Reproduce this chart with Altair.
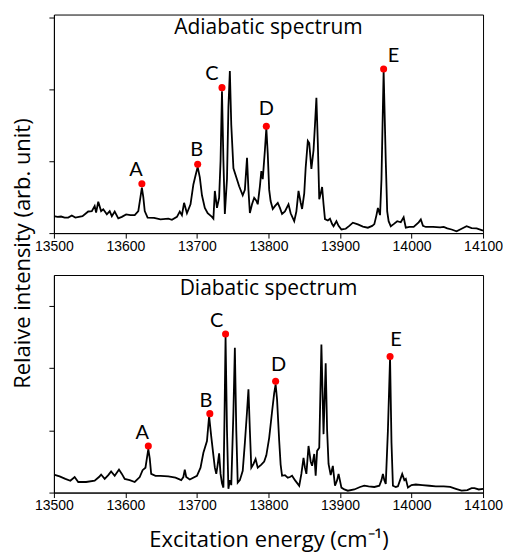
import altair as alt
import pandas as pd

# ---------------- data ----------------
adia_energy = [13500, 13505, 13510, 13515, 13520, 13525, 13530, 13540, 13548, 13553, 13557, 13559,
               13562, 13566, 13569, 13574, 13578, 13581, 13585, 13590, 13595, 13601, 13607, 13613,
               13618, 13621, 13623, 13625, 13627, 13631, 13640, 13649, 13660, 13665, 13672, 13676,
               13679, 13682, 13686, 13691, 13695, 13698, 13701, 13704, 13707, 13711, 13715, 13721,
               13723, 13725, 13728, 13731, 13733, 13735, 13737, 13739, 13742, 13744, 13746, 13748,
               13751, 13755, 13759, 13764, 13767, 13770, 13772, 13774, 13777, 13780, 13783, 13785,
               13788, 13790, 13792, 13795, 13797, 13799, 13801, 13803, 13806, 13809, 13813, 13816,
               13819, 13823, 13828, 13831, 13836, 13839, 13842, 13845, 13847, 13850, 13852, 13855,
               13857, 13860, 13863, 13865, 13867, 13869, 13871, 13873, 13875, 13877, 13879, 13883,
               13886, 13889, 13891, 13895, 13898, 13902, 13908, 13913, 13918, 13925, 13932, 13939,
               13945, 13948, 13951, 13953, 13956, 13958, 13961, 13964, 13966, 13968, 13971, 13975,
               13980, 13985, 13989, 13992, 13997, 14003, 14010, 14013, 14016, 14020, 14030, 14040,
               14045, 14050, 14056, 14063, 14070, 14077, 14084, 14091, 14100]
adia_intensity = [0.47, 0.45, 0.46, 0.43, 0.43, 0.49, 0.43, 0.47, 0.60, 0.61, 0.75, 0.57,
                  0.87, 0.61, 0.66, 0.52, 0.61, 0.47, 0.60, 0.41, 0.45, 0.52, 0.50, 0.50,
                  0.61, 1.00, 1.26, 1.00, 0.61, 0.43, 0.42, 0.38, 0.40, 0.37, 0.45, 0.60,
                  0.50, 0.84, 0.55, 0.80, 1.35, 1.60, 1.84, 1.55, 1.05, 0.70, 0.55, 0.45,
                  0.40, 1.17, 0.70, 0.98, 2.00, 3.94, 2.00, 0.53, 1.50, 3.50, 4.50, 3.00,
                  1.80, 1.55, 1.30, 1.05, 1.20, 2.09, 1.20, 0.56, 0.80, 0.98, 0.90, 0.80,
                  1.30, 1.72, 1.50, 2.30, 2.92, 2.20, 1.20, 0.89, 0.67, 0.75, 0.84, 0.70,
                  0.53, 0.60, 0.80, 0.55, 0.33, 0.60, 1.17, 0.85, 0.67, 1.10, 1.81, 2.56,
                  2.50, 1.78, 2.30, 3.00, 3.76, 2.50, 0.94, 1.10, 1.28, 0.80, 0.39, 0.35,
                  0.40, 0.25, 0.19, 0.33, 0.20, 0.10, 0.12, 0.20, 0.29, 0.24, 0.18, 0.15,
                  0.20, 0.25, 0.50, 0.70, 0.50, 1.50, 4.50, 2.00, 0.60, 0.33, 0.19, 0.25,
                  0.33, 0.30, 0.44, 0.15, 0.17, 0.17, 0.30, 0.38, 0.20, 0.17, 0.17, 0.16,
                  0.17, 0.13, 0.10, 0.05, 0.12, 0.19, 0.14, 0.13, 0.07]

dia_energy = [13500, 13508, 13516, 13523, 13529, 13534, 13545, 13557, 13563, 13566, 13571, 13576,
              13580, 13585, 13591, 13595, 13599, 13606, 13613, 13620, 13624, 13628, 13630, 13632,
              13634, 13636, 13642, 13649, 13660, 13670, 13678, 13681, 13683, 13685, 13690, 13700,
              13705, 13709, 13714, 13717, 13720, 13723, 13725, 13727, 13729, 13731, 13733, 13735,
              13737, 13738.5, 13740, 13742, 13744, 13746, 13748, 13751, 13753, 13755, 13757, 13760,
              13764, 13767, 13770, 13772, 13774, 13776, 13779, 13782, 13785, 13790, 13794, 13797,
              13801, 13805, 13808, 13810, 13812, 13815, 13817, 13819, 13823, 13827, 13830, 13833,
              13837, 13843, 13846, 13849, 13851, 13853, 13856, 13859, 13861, 13864, 13866, 13868,
              13871, 13874, 13877, 13880, 13882, 13884, 13887, 13890, 13893, 13896, 13898, 13902,
              13906, 13911, 13920, 13928, 13934, 13940, 13948, 13955, 13958, 13960, 13962, 13964,
              13967, 13970, 13972, 13974, 13978, 13981, 13984, 13987, 13990, 13992, 13995, 14000,
              14006, 14015, 14025, 14034, 14045, 14054, 14062, 14070, 14078, 14084, 14088, 14094,
              14100]
dia_intensity = [0.29, 0.26, 0.22, 0.19, 0.25, 0.17, 0.17, 0.19, 0.25, 0.29, 0.22, 0.28,
                 0.34, 0.27, 0.37, 0.30, 0.22, 0.20, 0.17, 0.25, 0.36, 0.40, 0.55, 0.70,
                 0.55, 0.30, 0.27, 0.27, 0.26, 0.24, 0.20, 0.25, 0.37, 0.25, 0.21, 0.27,
                 0.40, 0.64, 0.83, 1.23, 0.90, 0.60, 0.40, 0.30, 0.45, 0.63, 0.30, 0.15,
                 0.08, 1.20, 2.51, 1.00, 0.06, 0.20, 0.12, 1.30, 2.33, 1.00, 0.16, 0.20,
                 0.35, 0.80, 1.30, 1.66, 1.00, 0.40, 0.46, 0.54, 0.40, 0.45, 0.50, 0.60,
                 0.88, 1.30, 1.60, 1.74, 1.50, 0.83, 0.45, 0.27, 0.28, 0.24, 0.25, 0.27,
                 0.20, 0.11, 0.30, 0.56, 0.40, 0.30, 0.75, 0.50, 0.43, 0.62, 0.27, 0.67,
                 0.72, 2.38, 0.94, 2.08, 1.00, 0.46, 0.28, 0.43, 0.11, 0.20, 0.30, 0.08,
                 0.05, 0.03, 0.05, 0.09, 0.11, 0.10, 0.09, 0.11, 0.20, 0.30, 0.20, 0.14,
                 1.00, 2.17, 0.80, 0.11, 0.09, 0.10, 0.20, 0.30, 0.20, 0.22, 0.08, 0.12,
                 0.13, 0.12, 0.11, 0.10, 0.10, 0.09, 0.06, 0.03, 0.04, 0.07, 0.07, 0.05,
                 0.06]

peak_names = ["A", "B", "C", "D", "E"]
adia_peak_energy = [13623, 13701, 13735, 13797, 13961]
adia_peak_intensity = [1.37, 1.91, 4.04, 2.97, 4.56]
dia_peak_energy = [13632, 13718, 13740, 13810, 13970]
dia_peak_intensity = [0.75, 1.27, 2.55, 1.79, 2.19]

x_ticks = [13500, 13600, 13700, 13800, 13900, 14000, 14100]
adia_y_ticks = [0, 1, 2, 3, 4, 5, 6]
dia_y_ticks = [0, 1, 2, 3]

panel_titles = ["Adiabatic spectrum", "Diabatic spectrum"]
y_title = "Relaive intensity (arb. unit)"
x_title = "Excitation energy (cm\u207b\u00b9)"

# ---------------- styling ----------------
W = 430
TICK_FONT = "Liberation Sans"
TEXT_FONT = "Open Sans"
# label offsets (dx, baseline distance above dot) per peak
adia_offsets = {"A": (-6, 8), "B": (-1, 8), "C": (-10, 8), "D": (0, 11), "E": (10, 7)}
dia_offsets = {"A": (-6, 7), "B": (-4, 7), "C": (-9, 7), "D": (3, 10), "E": (6, 10)}


def panel(xs, ys, pxs, pys, title, ymax, yticks, height, offsets, top):
    df = pd.DataFrame({"E": xs, "I": ys})
    pk = pd.DataFrame({"E": pxs, "I": pys, "L": peak_names})
    xscale = alt.Scale(domain=[13500, 14100], nice=False, zero=False)
    yscale = alt.Scale(domain=[0, ymax], nice=False)
    xaxis_kw = dict(values=x_ticks, format="d", labelFont=TICK_FONT, labelFontSize=14,
                    labelColor="black", tickColor="black", domainColor="black",
                    tickSize=5, grid=False, labelPadding=1, labelFlush=False)
    if top:
        xaxis = alt.Axis(title=None, **xaxis_kw)
        yaxis = alt.Axis(values=yticks, labels=False, tickSize=5, tickColor="black",
                         domainColor="black", grid=False, title=y_title,
                         titleFont=TEXT_FONT, titleFontSize=22, titleFontWeight="normal",
                         titleColor="black", titleAngle=270, titleX=-31, titleY=239,
                         titleAlign="center", titleBaseline="middle")
    else:
        xaxis = alt.Axis(title=x_title, titleFont=TEXT_FONT, titleFontSize=22,
                         titleFontWeight="normal", titleColor="black", titlePadding=17,
                         **xaxis_kw)
        yaxis = alt.Axis(values=yticks, labels=False, tickSize=5, tickColor="black",
                         domainColor="black", grid=False, title=None)

    line = alt.Chart(df).mark_line(color="black", strokeWidth=1.8, clip=True).encode(
        x=alt.X("E:Q", scale=xscale, axis=xaxis),
        y=alt.Y("I:Q", scale=yscale, axis=yaxis),
    )
    dots = alt.Chart(pk).mark_circle(color="#ff0000", opacity=1, size=50).encode(
        x=alt.X("E:Q", scale=xscale), y=alt.Y("I:Q", scale=yscale)
    )
    labels = []
    for name in peak_names:
        dx, up = offsets[name]
        labels.append(
            alt.Chart(pk).transform_filter(alt.datum.L == name)
            .mark_text(font="Lato", fontSize=20, color="black", align="center",
                       baseline="alphabetic", dx=dx, dy=-up)
            .encode(x=alt.X("E:Q", scale=xscale), y=alt.Y("I:Q", scale=yscale), text="L:N")
        )
    ttl = alt.Chart(pd.DataFrame({"t": [title]})).mark_text(
        font=TEXT_FONT, fontSize=21, color="black", align="center", baseline="alphabetic"
    ).encode(x=alt.value(W / 2), y=alt.value(20), text="t:N")
    return alt.layer(line, dots, *labels, ttl).properties(width=W, height=height)


top = panel(adia_energy, adia_intensity, adia_peak_energy, adia_peak_intensity,
            panel_titles[0], 6.07, adia_y_ticks, 219, adia_offsets, True)
bottom = panel(dia_energy, dia_intensity, dia_peak_energy, dia_peak_intensity,
               panel_titles[1], 3.5, dia_y_ticks, 218, dia_offsets, False)

chart = alt.vconcat(top, bottom, spacing=42, bounds="flush").properties(
    padding={"left": 3, "top": 5, "right": 0, "bottom": 0}
).configure_view(stroke="black", strokeWidth=1).configure_axis(domainWidth=1, tickWidth=1)

chart.save("out.html", embed_options={"renderer": "svg", "actions": False})
